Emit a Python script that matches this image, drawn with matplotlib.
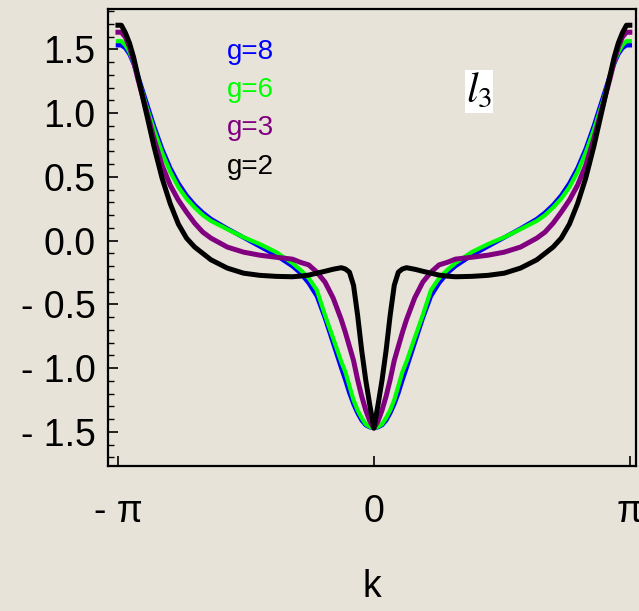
import numpy as np
import matplotlib.pyplot as plt
from matplotlib.ticker import MultipleLocator

# sampled band values l3(k) for each coupling g
k = [-3.1416, -3.10, -3.05, -3.00, -2.95, -2.90, -2.80, -2.70, -2.60, -2.50,
     -2.40, -2.30, -2.20, -2.10, -2.00, -1.80, -1.60, -1.40, -1.20, -1.00,
     -0.90, -0.80, -0.70, -0.60, -0.50, -0.40, -0.35, -0.30, -0.25, -0.20,
     -0.15, -0.10, -0.05, 0.00,
     0.05, 0.10, 0.15, 0.20, 0.25, 0.30, 0.35, 0.40, 0.50, 0.60,
     0.70, 0.80, 0.90, 1.00, 1.20, 1.40, 1.60, 1.80, 2.00, 2.10,
     2.20, 2.30, 2.40, 2.50, 2.60, 2.70, 2.80, 2.90, 2.95, 3.00,
     3.05, 3.10, 3.1416]

l3_g8 = [1.533, 1.533, 1.51, 1.463, 1.39, 1.30, 1.10, 0.90, 0.72, 0.57,
         0.45, 0.355, 0.28, 0.22, 0.17, 0.095, 0.025, -0.045, -0.115, -0.20,
         -0.255, -0.333, -0.435, -0.608, -0.804, -1.00, -1.094, -1.196, -1.282, -1.353,
         -1.41, -1.447, -1.463, -1.47,
         -1.463, -1.447, -1.41, -1.353, -1.282, -1.196, -1.094, -1.00, -0.804, -0.608,
         -0.435, -0.333, -0.255, -0.20, -0.115, -0.045, 0.025, 0.095, 0.17, 0.22,
         0.28, 0.355, 0.45, 0.57, 0.72, 0.90, 1.10, 1.30, 1.39, 1.463,
         1.51, 1.533, 1.533]

l3_g6 = [1.565, 1.565, 1.533, 1.478, 1.40, 1.29, 1.07, 0.87, 0.69, 0.54,
         0.42, 0.33, 0.26, 0.20, 0.155, 0.09, 0.027, -0.027, -0.09, -0.176,
         -0.23, -0.294, -0.388, -0.584, -0.765, -0.95, -1.03, -1.14, -1.25, -1.33,
         -1.39, -1.44, -1.46, -1.47,
         -1.46, -1.44, -1.39, -1.33, -1.25, -1.14, -1.03, -0.95, -0.765, -0.584,
         -0.388, -0.294, -0.23, -0.176, -0.09, -0.027, 0.027, 0.09, 0.155, 0.20,
         0.26, 0.33, 0.42, 0.54, 0.69, 0.87, 1.07, 1.29, 1.40, 1.478,
         1.533, 1.565, 1.565]

l3_g3 = [1.635, 1.635, 1.596, 1.518, 1.408, 1.275, 1.04, 0.80, 0.59, 0.435,
         0.318, 0.224, 0.137, 0.067, 0.02, -0.05, -0.09, -0.114, -0.13, -0.145,
         -0.17, -0.19, -0.247, -0.325, -0.45, -0.62, -0.72, -0.83, -0.94, -1.09,
         -1.22, -1.33, -1.416, -1.47,
         -1.416, -1.33, -1.22, -1.09, -0.94, -0.83, -0.72, -0.62, -0.45, -0.325,
         -0.247, -0.19, -0.17, -0.145, -0.13, -0.114, -0.09, -0.05, 0.02, 0.067,
         0.137, 0.224, 0.318, 0.435, 0.59, 0.80, 1.04, 1.275, 1.408, 1.518,
         1.596, 1.635, 1.635]

l3_g2 = [1.69, 1.69, 1.63, 1.55, 1.44, 1.30, 1.02, 0.74, 0.49, 0.29,
         0.13, 0.02, -0.05, -0.10, -0.15, -0.215, -0.255, -0.272, -0.28, -0.283,
         -0.278, -0.27, -0.255, -0.24, -0.224, -0.212, -0.222, -0.247, -0.35, -0.584,
         -0.86, -1.094, -1.29, -1.47,
         -1.29, -1.094, -0.86, -0.584, -0.35, -0.247, -0.222, -0.212, -0.224, -0.24,
         -0.255, -0.27, -0.278, -0.283, -0.28, -0.272, -0.255, -0.215, -0.15, -0.10,
         -0.05, 0.02, 0.13, 0.29, 0.49, 0.74, 1.02, 1.30, 1.44, 1.55,
         1.63, 1.69, 1.69]

series = [("g=8", l3_g8, "#0000ff", 3.2),
          ("g=6", l3_g6, "#00ff00", 3.0),
          ("g=3", l3_g3, "#800080", 3.6),
          ("g=2", l3_g2, "#000000", 3.6)]

yticks = [-1.5, -1.0, -0.5, 0.0, 0.5, 1.0, 1.5]
ytick_labels = ["- 1.5", "- 1.0", "- 0.5", "0.0", "0.5", "1.0", "1.5"]
xticks = [-np.pi, 0, np.pi]
xtick_labels = ["- \u03c0", "0", "\u03c0"]

bg = "#e7e3d9"
plt.rcParams['font.family'] = ['Liberation Sans', 'DejaVu Sans']
plt.rcParams['mathtext.fontset'] = 'stix'

fig = plt.figure(figsize=(6.39, 6.11), dpi=100, facecolor=bg)
ax = fig.add_axes([0.169, 0.237, 0.826, 0.748])
ax.set_facecolor(bg)

for name, vals, col, lw in series:
    ax.plot(k, vals, color=col, lw=lw, solid_joinstyle='round')

ax.set_xlim(-3.264, 3.215)
ax.set_ylim(-1.769, 1.816)

ax.set_yticks(yticks)
ax.set_yticklabels(ytick_labels)
ax.yaxis.set_minor_locator(MultipleLocator(0.1))
ax.set_xticks(xticks)
ax.set_xticklabels(xtick_labels)

ax.tick_params(axis='both', which='major', direction='in', length=7, width=1.2,
               labelsize=27, pad=9)
ax.tick_params(axis='y', which='minor', direction='in', length=4, width=1.0)
ax.tick_params(axis='x', pad=20)
for s in ax.spines.values():
    s.set_linewidth(1.6)

ax.set_xlabel("k", fontsize=27, labelpad=28)

# legend text stacked inside the frame
ly = [1.48, 1.18, 0.88, 0.58]
for (name, vals, col, lw), yy in zip(series, ly):
    ax.text(-1.80, yy, name, color=col, fontsize=20, va='center', ha='left')

ax.text(1.13, 1.17, r"$l_3$", fontsize=30, ha='left', va='center',
        bbox=dict(facecolor='white', edgecolor='none', pad=1.0))

fig.savefig("out.png", dpi=100, facecolor=bg)
